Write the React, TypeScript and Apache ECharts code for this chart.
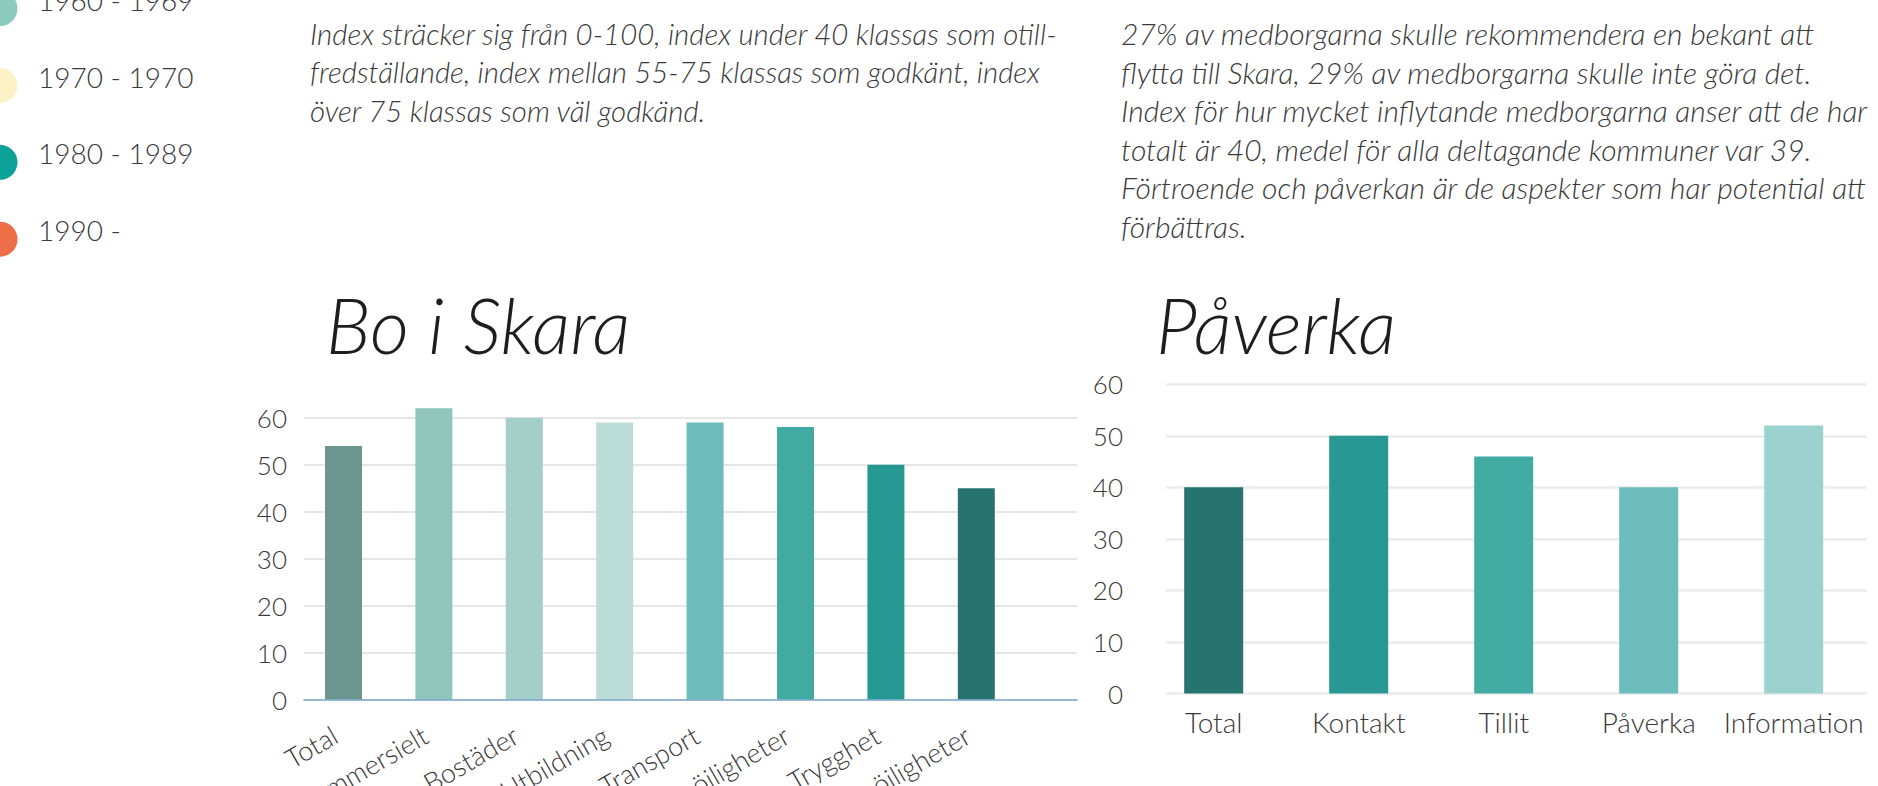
import React, { useEffect, useRef } from "react";
import * as echarts from "echarts";

const legendLabels = ["1960 - 1969", "1970 - 1970", "1980 - 1989", "1990 -"];
const legendColors = ["#8ecbbf", "#fdf2c5", "#0ca297", "#ee6e48"];

const leftParagraph = [
  "Index sträcker sig från 0-100, index under 40 klassas som otill-",
  "fredställande, index mellan 55-75 klassas som godkänt, index",
  "över 75 klassas som väl godkänd.",
];
const rightParagraph = [
  "27% av medborgarna skulle rekommendera en bekant att",
  "flytta till Skara, 29% av medborgarna skulle inte göra det.",
  "Index för hur mycket inflytande medborgarna anser att de har",
  "totalt är 40, medel för alla deltagande kommuner var 39.",
  "Förtroende och påverkan är de aspekter som har potential att",
  "förbättras.",
];

const boTitle = "Bo i Skara";
const boCategories = [
  "Total",
  "Kommersielt",
  "Bostäder",
  "Utbildning",
  "Transport",
  "Fritidsmöjligheter",
  "Trygghet",
  "Arbetsmöjligheter",
];
const boValues = [54, 62, 60, 59, 59, 58, 50, 45];
const boColors = ["#6b958f", "#90c5bb", "#a4cfc8", "#bcddd7", "#6cbcbb", "#41aba3", "#279993", "#277370"];

const paTitle = "Påverka";
const paCategories = ["Total", "Kontakt", "Tillit", "Påverka", "Information"];
const paValues = [40, 50, 46, 40, 52];
const paColors = ["#277370", "#279893", "#42aba4", "#6cbcbb", "#9bd2cf"];

const FONT = "Lato, 'Open Sans', sans-serif";
const TEXT_COLOR = "#3a3a3a";

export default function App() {
  const ref = useRef<HTMLDivElement>(null);

  useEffect(() => {
    if (!ref.current) return;
    const chart = echarts.init(ref.current, null, { renderer: "svg" });

    const graphics: any[] = [];
    legendLabels.forEach((lab, i) => {
      graphics.push({
        type: "circle",
        shape: { cx: 0, cy: 8.5 + 76.9 * i, r: 17.5 },
        style: { fill: legendColors[i] },
      });
      graphics.push({
        type: "text",
        x: 38,
        y: 0 + 76.5 * i,
        style: {
          text: lab,
          fontFamily: FONT,
          fontWeight: 300,
          fontSize: 28,
          fill: TEXT_COLOR,
          verticalAlign: "middle",
          align: "left",
        },
      });
    });
    leftParagraph.forEach((line, i) => {
      graphics.push({
        type: "text",
        x: 310,
        y: 33 + 38.5 * i,
        style: {
          text: line,
          fontFamily: FONT,
          fontWeight: 300,
          fontStyle: "italic",
          fontSize: 29.4,
          fill: TEXT_COLOR,
          verticalAlign: "middle",
          align: "left",
        },
      });
    });
    rightParagraph.forEach((line, i) => {
      graphics.push({
        type: "text",
        x: 1121,
        y: 33 + 38.5 * i,
        style: {
          text: line,
          fontFamily: FONT,
          fontWeight: 300,
          fontStyle: "italic",
          fontSize: 30,
          fill: TEXT_COLOR,
          verticalAlign: "middle",
          align: "left",
        },
      });
    });
    graphics.push({
      type: "text",
      x: 326,
      y: 324,
      style: {
        text: boTitle,
        fontFamily: FONT,
        fontWeight: 300,
        fontStyle: "italic",
        fontSize: 76,
        fill: "#1e1e1e",
        verticalAlign: "middle",
        align: "left",
      },
    });
    graphics.push({
      type: "text",
      x: 1156,
      y: 324,
      style: {
        text: paTitle,
        fontFamily: FONT,
        fontWeight: 300,
        fontStyle: "italic",
        fontSize: 76,
        fill: "#1e1e1e",
        verticalAlign: "middle",
        align: "left",
      },
    });

    const leftTop = 699.7 - 65 * 4.7;
    const leftH = 65 * 4.7;
    const rightTop = 384.3;
    const rightH = 309.2;

    const yLabel = {
      fontFamily: FONT,
      fontWeight: 300,
      fontSize: 26,
      color: TEXT_COLOR,
    };
    const split = { show: true, lineStyle: { color: "#e6e6e6", width: 2 } };

    const option: any = {
      animation: false,
      backgroundColor: "#ffffff",
      graphic: graphics,
      grid: [
        { left: 304, width: 773, top: leftTop, height: leftH, outerBoundsMode: "none", containLabel: false },
        { left: 298.3, width: 723.2, top: leftTop, height: leftH, outerBoundsMode: "none", containLabel: false },
        { left: 1166, width: 700.7, top: rightTop, height: rightH, outerBoundsMode: "none", containLabel: false },
        { left: 1141.2, width: 725, top: rightTop, height: rightH, outerBoundsMode: "none", containLabel: false },
      ],
      xAxis: [
        {
          gridIndex: 0,
          type: "category",
          data: [""],
          z: 5,
          axisLine: { show: true, lineStyle: { color: "#7ba7cf", width: 1.5 } },
          axisTick: { show: false },
          axisLabel: { show: false },
        },
        {
          gridIndex: 1,
          type: "category",
          data: boCategories,
          axisLine: { show: false },
          axisTick: { show: false },
          axisLabel: {
            interval: 0,
            rotate: 30,
            margin: 28,
            padding: [0, 10, 0, 0],
            fontFamily: FONT,
            fontWeight: 300,
            fontSize: 27,
            color: TEXT_COLOR,
          },
        },
        {
          gridIndex: 2,
          type: "category",
          data: [""],
          axisLine: { show: false },
          axisTick: { show: false },
          axisLabel: { show: false },
        },
        {
          gridIndex: 3,
          type: "category",
          data: paCategories,
          axisLine: { show: false },
          axisTick: { show: false },
          axisLabel: {
            interval: 0,
            margin: 14,
            fontFamily: FONT,
            fontWeight: 300,
            fontSize: 28,
            color: TEXT_COLOR,
          },
        },
      ],
      yAxis: [
        {
          gridIndex: 0,
          type: "value",
          min: 0,
          max: 65,
          interval: 10,
          axisLine: { show: false },
          axisTick: { show: false },
          axisLabel: { ...yLabel, margin: 17, showMaxLabel: false },
          splitLine: { ...split, showMaxLine: false },
        },
        { gridIndex: 1, type: "value", min: 0, max: 65, interval: 10, show: false, splitLine: { show: false } },
        {
          gridIndex: 2,
          type: "value",
          min: 0,
          max: 60,
          interval: 10,
          axisLine: { show: false },
          axisTick: { show: false },
          axisLabel: { ...yLabel, margin: 43 },
          splitLine: { show: true, lineStyle: { color: "#ebebeb", width: 2.5 } },
        },
        { gridIndex: 3, type: "value", min: 0, max: 60, interval: 10, show: false, splitLine: { show: false } },
      ],
      series: [
        {
          type: "bar",
          xAxisIndex: 1,
          yAxisIndex: 1,
          barWidth: 37,
          silent: true,
          data: boValues.map((v, i) => ({ value: v, itemStyle: { color: boColors[i] } })),
        },
        {
          type: "bar",
          xAxisIndex: 3,
          yAxisIndex: 3,
          barWidth: 59,
          silent: true,
          data: paValues.map((v, i) => ({ value: v, itemStyle: { color: paColors[i] } })),
        },
      ],
    };

    chart.setOption(option);
    return () => chart.dispose();
  }, []);

  return (
    <div
      ref={ref}
      style={{ position: "absolute", left: 0, top: 0, width: 1878, height: 786, background: "#fff" }}
    />
  );
}
